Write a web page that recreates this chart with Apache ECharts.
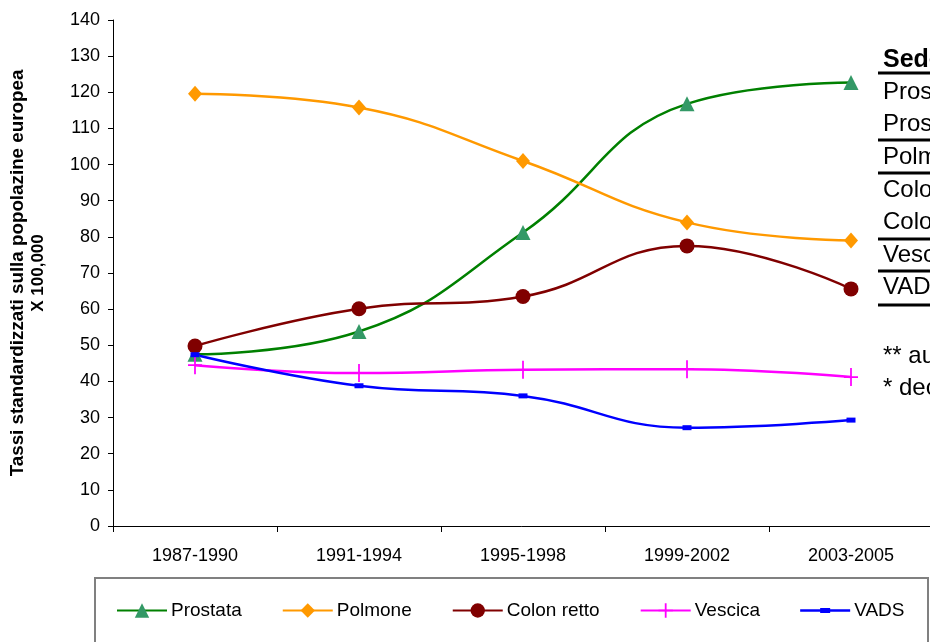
<!DOCTYPE html>
<html>
<head>
<meta charset="utf-8">
<script src="https://cdn.jsdelivr.net/npm/echarts@6/dist/echarts.min.js"></script>
<style>
  html, body { margin: 0; padding: 0; background: #fff; }
  #chart { width: 930px; height: 642px; }
</style>
</head>
<body>
<div id="chart"></div>
<script>
// Periods and standardized rates per 100,000 (European population)
const periods = ['1987-1990', '1991-1994', '1995-1998', '1999-2002', '2003-2005'];
const prostata = [47.5, 53.8, 81.2, 116.8, 122.7];
const polmone = [119.6, 115.8, 101.0, 84.0, 79.0];
const colonRetto = [49.8, 60.1, 63.5, 77.5, 65.6];
const vescica = [44.5, 42.3, 43.2, 43.4, 41.2];
const vads = [47.4, 38.8, 36.0, 27.2, 29.3];

const seriesNames = ['Prostata', 'Polmone', 'Colon retto', 'Vescica', 'VADS'];
const yTitleLines = ['Tassi standardizzati sulla popolazine europea', 'X 100,000'];

// Side table (runs off the right edge)
const tableHeader = 'Sede';
const tableRows = ['Prostata **', 'Prostata *', 'Polmone', 'Colon retto **', 'Colon retto *', 'Vescica', 'VADS'];
const footNotes = ['** aumento significativo', '* decremento significativo'];

const FONT = 'Arial, "Liberation Sans", sans-serif';
const crossPath = 'path://M-1,-10 L1,-10 L1,10 L-1,10 Z M-8,-1 L8,-1 L8,1 L-8,1 Z';
const dashPath = 'path://M-5,-2.5 L5,-2.5 L5,2.5 L-5,2.5 Z';
// legend glyph for the VADS series: line with a small dash marker in the middle
const dashLegendIcon = 'path://M0,8.75 L50,8.75 L50,11.25 L0,11.25 Z M20,7.5 L30,7.5 L30,12.5 L20,12.5 Z';

function lineSeries(name, data, lineColor, markColor, symbol, size) {
  return {
    name: name,
    type: 'line',
    data: data,
    smooth: 0.45,
    symbol: symbol,
    symbolSize: size,
    showAllSymbol: true,
    lineStyle: { color: lineColor, width: 2.5 },
    itemStyle: { color: markColor, borderWidth: 0 },
    emphasis: { disabled: true },
    z: 3
  };
}

const chart = echarts.init(document.getElementById('chart'), null, { renderer: 'canvas' });

const graphics = [
  {
    type: 'rect',
    shape: { x: 95, y: 578, width: 833, height: 90 },
    style: { fill: 'none', stroke: '#808080', lineWidth: 2 },
    z: 0
  },
  {
    type: 'text',
    x: 883, y: 60,
    style: { text: tableHeader, font: 'bold 25px ' + FONT, fill: '#000', textVerticalAlign: 'middle' }
  }
];
const rowY = [92, 124, 157, 190, 222, 255, 287];
tableRows.forEach((t, i) => {
  graphics.push({
    type: 'text', x: 883, y: rowY[i],
    style: { text: t, font: '24px ' + FONT, fill: '#000', textVerticalAlign: 'middle' }
  });
});
[73, 140, 173, 239, 271, 305].forEach(y => {
  graphics.push({
    type: 'line',
    shape: { x1: 878, y1: y, x2: 935, y2: y },
    style: { stroke: '#000', lineWidth: 3 }
  });
});
footNotes.forEach((t, i) => {
  graphics.push({
    type: 'text', x: 883, y: 356 + i * 32,
    style: { text: t, font: '24px ' + FONT, fill: '#000', textVerticalAlign: 'middle' }
  });
});

chart.setOption({
  animation: false,
  backgroundColor: '#fff',
  grid: { left: 113, top: 20, width: 820, bottom: 116, containLabel: false, outerBoundsMode: 'none' },
  legend: {
    left: 111,
    top: 596,
    itemWidth: 50,
    itemHeight: 18,
    itemGap: 40,
    textStyle: { fontFamily: FONT, fontSize: 19, color: '#000', padding: [0, 0, 0, -1] },
    data: [
      { name: seriesNames[0] },
      { name: seriesNames[1] },
      { name: seriesNames[2] },
      { name: seriesNames[3] },
      { name: seriesNames[4], icon: dashLegendIcon }
    ]
  },
  xAxis: {
    type: 'category',
    data: periods,
    boundaryGap: true,
    axisLine: { lineStyle: { color: '#000', width: 1 } },
    axisTick: { show: true, length: 6, lineStyle: { color: '#000' } },
    axisLabel: { color: '#000', fontFamily: FONT, fontSize: 18, margin: 21 },
    splitLine: { show: false }
  },
  yAxis: {
    type: 'value',
    min: 0,
    max: 140,
    interval: 10,
    name: '{a|' + yTitleLines[0] + '}\n{b|' + yTitleLines[1] + '}',
    nameLocation: 'middle',
    nameRotate: 90,
    nameGap: 64,
    nameTextStyle: {
      fontFamily: FONT, fontWeight: 'bold', color: '#000',
      rich: {
        a: { fontFamily: FONT, fontSize: 18.8, fontWeight: 'bold', color: '#000', lineHeight: 21 },
        b: { fontFamily: FONT, fontSize: 17, fontWeight: 'bold', color: '#000', lineHeight: 21 }
      }
    },
    axisLine: { show: true, lineStyle: { color: '#000', width: 1 } },
    axisTick: { show: true, length: 5, lineStyle: { color: '#000' } },
    axisLabel: { color: '#000', fontFamily: FONT, fontSize: 18, margin: 13 },
    splitLine: { show: false }
  },
  series: [
    lineSeries(seriesNames[0], prostata, '#008000', '#339966', 'triangle', 15),
    lineSeries(seriesNames[1], polmone, '#FF9900', '#FF9900', 'diamond', [14, 16]),
    lineSeries(seriesNames[2], colonRetto, '#800000', '#800000', 'circle', 15),
    lineSeries(seriesNames[3], vescica, '#FF00FF', '#FF00FF', crossPath, [14, 18]),
    lineSeries(seriesNames[4], vads, '#0000FF', '#0000FF', dashPath, [9, 5])
  ],
  graphic: graphics
});
</script>
</body>
</html>
